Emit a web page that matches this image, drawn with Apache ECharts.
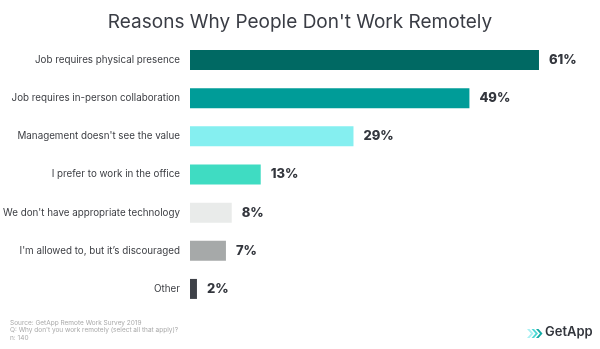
<!DOCTYPE html>
<html>
<head>
<meta charset="utf-8">
<script src="https://cdn.jsdelivr.net/npm/echarts@6/dist/echarts.min.js"></script>
<style>
html,body{margin:0;padding:0;background:#fff;}
#chart{width:600px;height:349px;}
</style>
</head>
<body>
<div id="chart"></div>
<script>
const categories = [
  "Job requires physical presence",
  "Job requires in-person collaboration",
  "Management doesn't see the value",
  "I prefer to work in the office",
  "We don't have appropriate technology",
  "I'm allowed to, but it\u2019s discouraged",
  "Other"
];
const values = [61, 49, 29, 13, 8, 7, 2];
const barColors = ["#006963", "#009c98", "#85eff0", "#3fdcc2", "#e9ebea", "#a6a9a9", "#3e4148"];
const titleText = "Reasons Why People Don't Work Remotely";
const footnotes = [
  "Source: GetApp Remote Work Survey 2019",
  "Q: Why don't you work remotely (select all that apply)?",
  "n: 140"
];

const chart = echarts.init(document.getElementById('chart'), null, {renderer: 'canvas'});
const option = {
  animation: false,
  backgroundColor: '#ffffff',
  title: {
    text: titleText,
    left: 'center',
    top: 8,
    textStyle: {fontFamily: 'Inter', fontWeight: 'normal', fontSize: 19, color: '#3a3d45'}
  },
  grid: {left: 190, right: 10, top: 41, height: 267, containLabel: false, outerBoundsMode: 'none'},
  xAxis: {
    type: 'value', min: 0.8, max: 69.8,
    show: false
  },
  yAxis: {
    type: 'category',
    inverse: true,
    data: categories,
    axisLine: {show: false},
    axisTick: {show: false},
    splitLine: {show: false},
    axisLabel: {
      margin: 10,
      fontFamily: 'Inter',
      fontSize: 9.8,
      color: '#3b3d42'
    }
  },
  series: [{
    type: 'bar',
    barWidth: 20,
    data: values.map((v, i) => ({value: v, itemStyle: {color: barColors[i]}})),
    label: {
      show: true,
      position: 'right',
      distance: 10,
      formatter: p => p.value + '%',
      fontFamily: 'Inter',
      fontWeight: 800,
      fontSize: 13,
      color: '#33363d'
    }
  }],
  graphic: [
    {
      type: 'text', left: 10, top: 319,
      style: {text: footnotes.join('\n'), font: '6.5px Inter', fill: '#a9a9a9', lineHeight: 7.5}
    },
    {
      type: 'polygon', shape: {points: [[527,329],[531,333.5],[527,338],[529.5,338],[533.5,333.5],[529.5,329]]},
      style: {fill: '#a8f0f3'}
    },
    {
      type: 'polygon', shape: {points: [[531.5,329],[535.5,333.5],[531.5,338],[534,338],[538,333.5],[534,329]]},
      style: {fill: '#4fd9d6'}
    },
    {
      type: 'polygon', shape: {points: [[536,329],[540,333.5],[536,338],[538.5,338],[542.5,333.5],[538.5,329]]},
      style: {fill: '#13aaa4'}
    },
    {
      type: 'text', left: 545, top: 326,
      style: {text: 'GetApp', font: '600 13px Inter', fill: '#33363d'}
    }
  ]
};
chart.setOption(option);
</script>
</body>
</html>
